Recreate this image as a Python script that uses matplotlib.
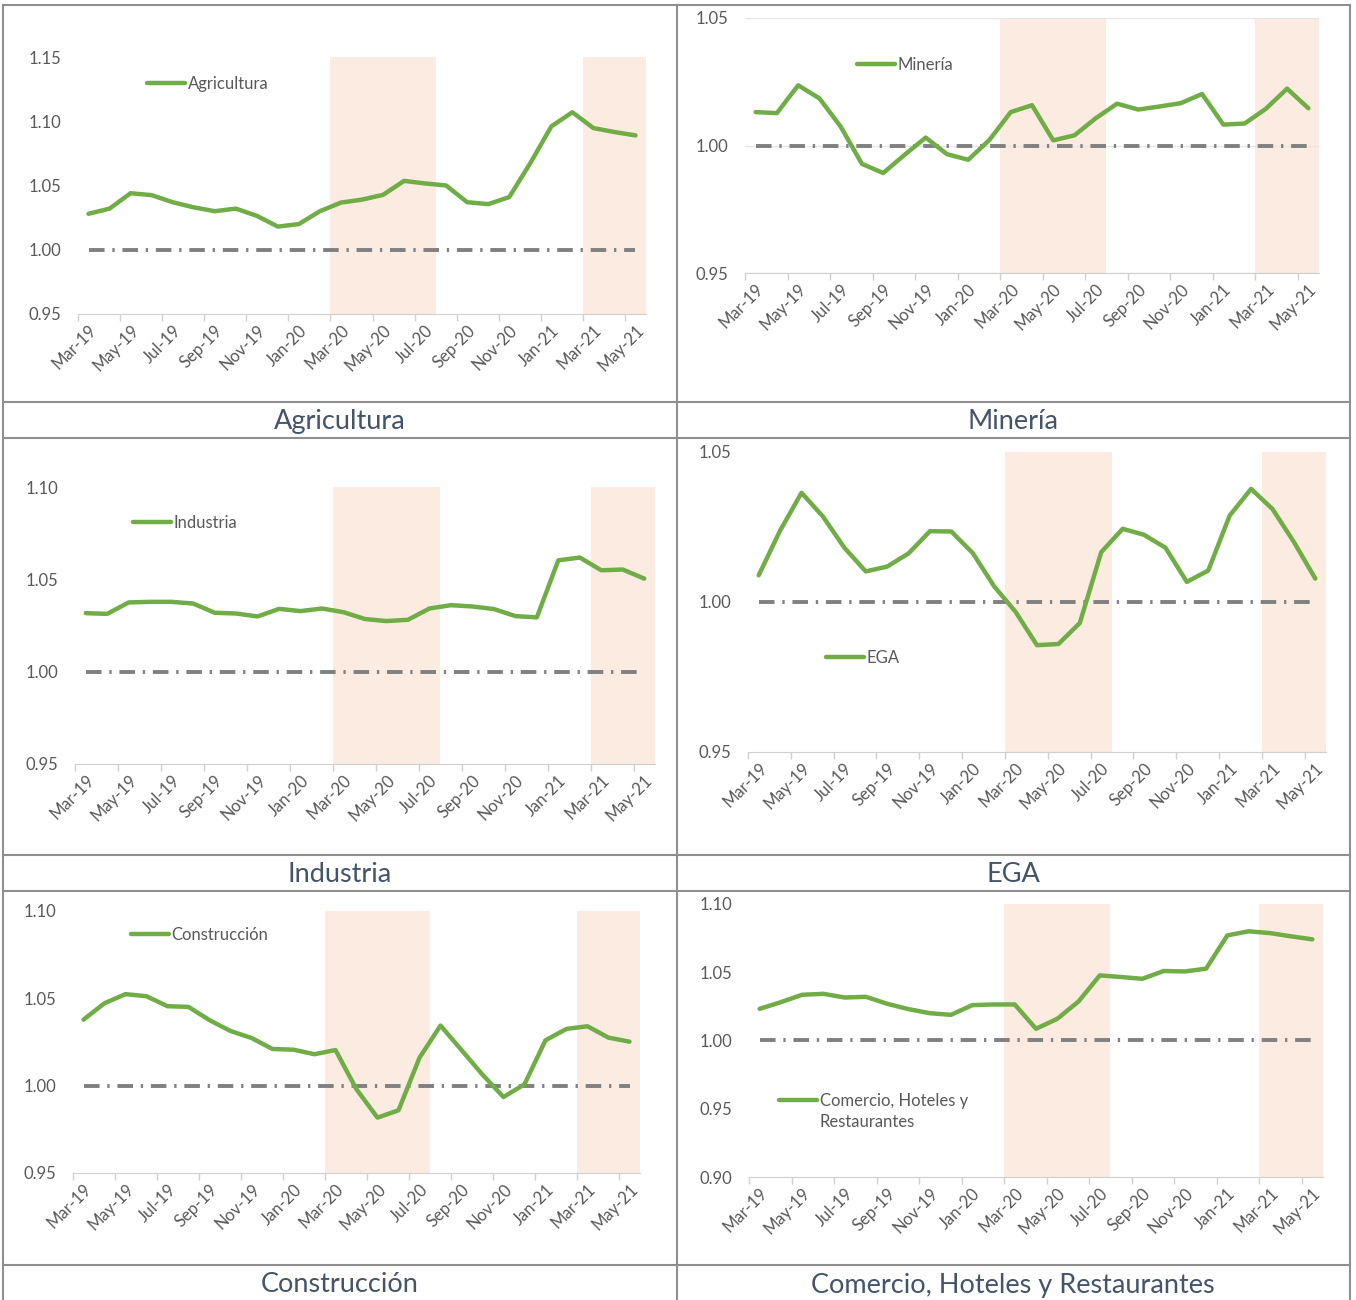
import numpy as np
import matplotlib.pyplot as plt
from matplotlib.lines import Line2D
from matplotlib.legend_handler import HandlerLine2D

plt.rcParams['font.family'] = ['Lato', 'DejaVu Sans']

months = ['Mar-19', 'Apr-19', 'May-19', 'Jun-19', 'Jul-19', 'Aug-19', 'Sep-19', 'Oct-19', 'Nov-19',
          'Dec-19', 'Jan-20', 'Feb-20', 'Mar-20', 'Apr-20', 'May-20', 'Jun-20', 'Jul-20', 'Aug-20',
          'Sep-20', 'Oct-20', 'Nov-20', 'Dec-20', 'Jan-21', 'Feb-21', 'Mar-21', 'Apr-21', 'May-21']

agricultura = [1.028, 1.032, 1.044, 1.0425, 1.037, 1.033, 1.030, 1.032, 1.0264, 1.018, 1.020, 1.030,
               1.0367, 1.039, 1.0427, 1.0536, 1.0516, 1.050, 1.037, 1.0355, 1.041, 1.0674, 1.096,
               1.107, 1.0947, 1.0916, 1.089]
mineria = [1.0131, 1.0127, 1.0236, 1.0185, 1.0074, 0.9928, 0.9892, 0.9963, 1.0031, 0.9966, 0.9944,
           1.0022, 1.0131, 1.0158, 1.002, 1.004, 1.0107, 1.0164, 1.0141, 1.0153, 1.0166, 1.0202,
           1.0082, 1.0086, 1.0144, 1.0223, 1.0146]
industria = [1.0317, 1.0313, 1.0375, 1.0378, 1.0378, 1.0369, 1.0319, 1.0315, 1.0299, 1.034, 1.0328,
             1.0342, 1.0322, 1.0285, 1.0274, 1.0281, 1.0342, 1.036, 1.0353, 1.0339, 1.0301, 1.0294,
             1.0603, 1.0618, 1.0549, 1.0553, 1.0504]
ega = [1.0089, 1.0238, 1.0364, 1.0285, 1.0181, 1.0102, 1.0118, 1.0162, 1.0236, 1.0235, 1.0163,
       1.0052, 0.9967, 0.9856, 0.986, 0.993, 1.0166, 1.0244, 1.0224, 1.0181, 1.0067, 1.0105,
       1.0288, 1.0377, 1.031, 1.020, 1.0078]
construccion = [1.0378, 1.0472, 1.0524, 1.0512, 1.0455, 1.0451, 1.0375, 1.0313, 1.0273, 1.021,
                1.0206, 1.018, 1.0204, 0.9979, 0.9817, 0.9859, 1.016, 1.0344, 1.0204, 1.0063,
                0.9935, 1.0008, 1.026, 1.0325, 1.034, 1.0275, 1.0252]
comercio = [1.0232, 1.0281, 1.0335, 1.0342, 1.0315, 1.032, 1.0269, 1.023, 1.020, 1.0188, 1.0259,
            1.0264, 1.0264, 1.0086, 1.0159, 1.0286, 1.0477, 1.0465, 1.0452, 1.0509, 1.0506, 1.0526,
            1.077, 1.080, 1.0787, 1.0763, 1.0741]

baseline = 1.0
# shaded periods as (first month, last month)
periods = [('Mar-20', 'Jul-20'), ('Mar-21', 'May-21')]

GREEN = '#70AD47'
SHADE = '#FBEBE0'
TXT = '#595959'
TITLE = '#44546A'
BORDER = '#8F8F8F'


class TopLineHandler(HandlerLine2D):
    # puts the legend line level with the first text line (like excel does)
    def __init__(self, shift, **kw):
        super().__init__(**kw)
        self.shift = shift

    def create_artists(self, legend, orig_handle, xdescent, ydescent, width, height, fontsize, trans):
        arts = super().create_artists(legend, orig_handle, xdescent, ydescent, width, height,
                                      fontsize, trans)
        for a in arts:
            a.set_ydata(np.asarray(a.get_ydata(), dtype=float) + self.shift)
        return arts


W, H = 1356, 1300
fig = plt.figure(figsize=(W / 100, H / 100), dpi=100)

# name, series, legend label, (x0, x1, ytop, ybottom) in px, ylim, legend anchor, title center, grid
panels = [
    ('Agricultura', agricultura, 'Agricultura', (78, 646, 57, 314), (0.95, 1.15), (0.121, 0.895), (340, 421), False),
    ('Minería', mineria, 'Minería', (745, 1319, 18, 273), (0.95, 1.05), (0.195, 0.816), (1013, 421), True),
    ('Industria', industria, 'Industria', (75, 655, 487, 764), (0.95, 1.10), (0.10, 0.87), (340, 875), False),
    ('EGA', ega, 'EGA', (748, 1326, 452, 752), (0.95, 1.05), (0.135, 0.313), (1013, 875), False),
    ('Construcción', construccion, 'Construcción', (73, 640, 911, 1173), (0.95, 1.10), (0.102, 0.908), (340, 1285), False),
    ('Comercio, Hoteles y Restaurantes', comercio, 'Comercio, Hoteles y\nRestaurantes',
     (749, 1323, 904, 1177), (0.90, 1.10), (0.052, 0.24), (1013, 1285), False),
]

x = np.arange(len(months))
for name, vals, lab, (x0, x1, yt, yb), ylim, leg, (tx, ty), grid in panels:
    ax = fig.add_axes([x0 / W, 1 - yb / H, (x1 - x0) / W, (yb - yt) / H])
    for a, b in periods:
        ax.axvspan(months.index(a) - 0.5, months.index(b) + 0.5, color=SHADE, lw=0, zorder=0)
    ax.hlines(baseline, x[0], x[-1], colors='#808080', lw=2.8,
              linestyles=[(0, (4, 2, 0.6, 2))], zorder=2)
    line, = ax.plot(x, vals, color=GREEN, lw=3.2, label=lab, zorder=3, solid_joinstyle='round',
                    solid_capstyle='round')
    ax.set_xlim(-0.5, len(months) - 0.5)
    ax.set_ylim(*ylim)
    ax.set_yticks(np.arange(ylim[0], ylim[1] + 0.001, 0.05))
    ax.yaxis.set_major_formatter(plt.FormatStrFormatter('%.2f'))
    ax.set_xticks(x[::2])
    ax.set_xticklabels(months[::2], rotation=45, ha='right', rotation_mode='anchor')
    ax.set_xticks(x[::2] - 0.5, minor=True)
    ax.tick_params(axis='x', which='major', length=0, pad=6, labelsize=12, labelcolor=TXT)
    ax.tick_params(axis='x', which='minor', length=5, color='#D0D0D0', width=1)
    ax.tick_params(axis='y', length=0, pad=12, labelsize=12, labelcolor=TXT)
    for s in ['top', 'right', 'left']:
        ax.spines[s].set_visible(False)
    ax.spines['bottom'].set_color('#D0D0D0')
    if grid:
        ax.grid(axis='y', color='#E6E6E6', lw=1, zorder=1)
        ax.set_axisbelow(True)
    ax.patch.set_alpha(0)
    hmap = {}
    if '\n' in lab:
        hmap = {line: TopLineHandler(8.5)}
    lg = ax.legend(loc='center left', bbox_to_anchor=leg, frameon=False, handlelength=2.3,
                   handletextpad=0.15, borderaxespad=0, borderpad=0, fontsize=12,
                   handler_map=hmap)
    for t in lg.get_texts():
        t.set_color(TXT)
        t.set_linespacing(1.45)
    fig.text(tx / W, 1 - ty / H, name, ha='center', va='center', fontsize=19.5, color=TITLE)

# table borders
for yy in [5, 402, 438, 855, 891, 1265]:
    fig.add_artist(Line2D([3 / W, 1350 / W], [1 - yy / H, 1 - yy / H], color=BORDER, lw=1.5))
for xx in [3, 677, 1350]:
    fig.add_artist(Line2D([xx / W, xx / W], [1 - 5 / H, 0], color=BORDER, lw=1.5))

fig.savefig('out.png', dpi=100)
